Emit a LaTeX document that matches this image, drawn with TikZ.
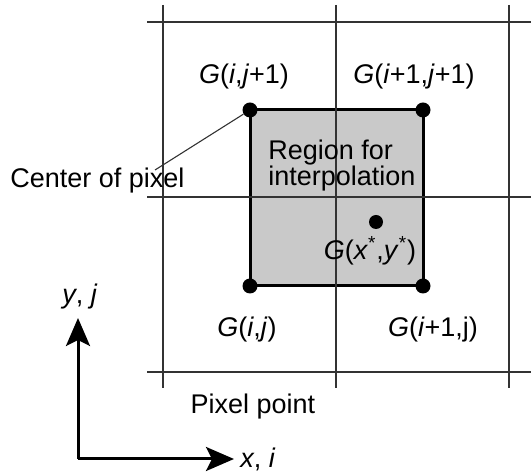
\documentclass[tikz,border=0pt]{standalone}
\usepackage{fontspec}
\setmainfont{Liberation Sans}
\usetikzlibrary{positioning, arrows.meta}

\begin{document}
\begin{tikzpicture}[
        x=0.5pt, y=-0.5pt,
        gridline/.style={draw=black!80, line width=0.85pt},
        region/.style={draw=black, line width=1.5pt, fill=black!21},
        pixdot/.style={circle, fill=black, inner sep=0pt, minimum size=7.5pt},
        lbl/.style={font=\fontsize{13.5}{13}\selectfont, inner sep=1pt},
        leader/.style={draw=black!80, line width=0.55pt},
        axis/.style={-{Stealth[length=14pt,width=12pt,inset=3pt]}, line width=1.5pt}
      ]
        \useasboundingbox (0,0) rectangle (531,475);

        % region between the four pixel centres
        \draw[region] (250,110) rectangle (423,286);

        % pixel grid
        \foreach \gx in {163,336,509}
          \draw[gridline] (\gx,5) -- (\gx,388);
        \foreach \gy in {22,197,372}
          \draw[gridline] (147,\gy) -- (531,\gy);

        % pixel centres
        \node[pixdot] (p01) at (250,110) {};
        \node[pixdot] (p11) at (423,110) {};
        \node[pixdot] (p00) at (250,286) {};
        \node[pixdot] (p10) at (423,286) {};
        \node[pixdot, minimum size=7pt] (pstar) at (376,222) {};

        \node[lbl] (g01) at (244,77) {\textit{G}(\textit{i},\textit{j}+1)};
        \node[lbl] (g11) at (414,77) {\textit{G}(\textit{i}+1,\textit{j}+1)};
        \node[lbl] (g00) at (247,330) {\textit{G}(\textit{i},\textit{j})};
        \node[lbl] (g10) at (433,330) {\textit{G}(\textit{i}+1,j)};
        \node[lbl] (gstar) at (370,251) {\textit{G}(\textit{x}\textsuperscript{*},\textit{y}\textsuperscript{*})};

        \node[lbl, anchor=west, align=left] (regtxt) at (266,166) {Region for\\interpolation};

        \node[lbl, anchor=west] (cop) at (8,181) {Center of pixel};
        \coordinate (leadend) at (155,170);
        \draw[leader] (leadend) -- (p01);

        \node[lbl] (pixpt) at (253,407) {Pixel point};

        % axes
        \coordinate (orig) at (78,459);
        \coordinate (yend) at (78,318);
        \coordinate (xend) at (234,459);
        \draw[axis] (orig) -- (yend);
        \draw[axis] (orig) -- (xend);
        \node[lbl] (ylbl) at (80,297) {\textit{y}, \textit{j}};
        \node[lbl, anchor=west] (xlbl) at (238,459) {\textit{x}, \textit{i}};
      \end{tikzpicture}
\end{document}
